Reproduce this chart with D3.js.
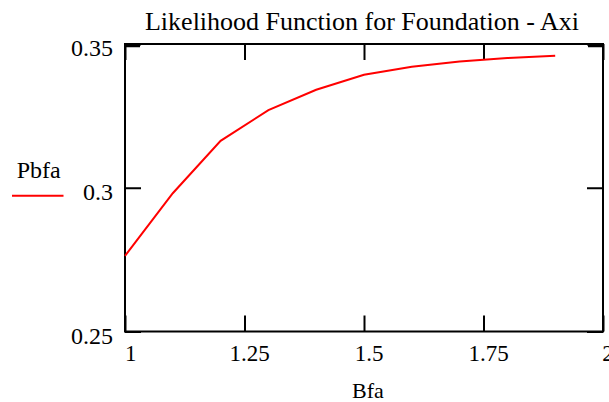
<!DOCTYPE html>
<html>
<head>
<meta charset="utf-8">
<script src="https://cdn.jsdelivr.net/npm/d3@7"></script>
<style>
  html, body { margin: 0; padding: 0; background: #fff; }
  svg { display: block; }
</style>
</head>
<body>
<script>
// Data
const bfa = [1.0, 1.1, 1.2, 1.3, 1.4, 1.5, 1.6, 1.7, 1.8, 1.9];
const pbfa = [0.2763, 0.2981, 0.3163, 0.3270, 0.3341, 0.3393, 0.3421, 0.3439, 0.3451, 0.3459];
const xTicks = [1, 1.25, 1.5, 1.75, 2];
const xTickLabels = ["1", "1.25", "1.5", "1.75", "2"];
const yTicks = [0.25, 0.3, 0.35];
const yTickLabels = ["0.25", "0.3", "0.35"];
const title = "Likelihood Function for Foundation - Axi";
const xLabel = "Bfa";
const seriesName = "Pbfa";

(function () {
const W = 609, H = 402;
const pL = 125, pR = 603, pT = 44, pB = 331.5;
const FONT = "'Liberation Serif'";

const svg = d3.select("body").append("svg").attr("width", W).attr("height", H)
  .attr("font-family", FONT);

const x = d3.scaleLinear().domain([1, 2]).range([pL, pR]);
const y = d3.scaleLinear().domain([0.25, 0.35]).range([pB, pT]);

const tickLen = 16;

// Frame
svg.append("rect")
  .attr("x", pL).attr("y", pT)
  .attr("width", pR - pL).attr("height", pB - pT)
  .attr("fill", "none").attr("stroke", "#000").attr("stroke-width", 2);

// Axes via d3 (inner ticks)
const axBottom = d3.axisBottom(x).tickValues(xTicks).tickSizeInner(-tickLen).tickSizeOuter(0).tickFormat("");
const axTop = d3.axisTop(x).tickValues(xTicks).tickSizeInner(-tickLen).tickSizeOuter(0).tickFormat("");
const axLeft = d3.axisLeft(y).tickValues(yTicks).tickSizeInner(-tickLen).tickSizeOuter(0).tickFormat("");
const axRight = d3.axisRight(y).tickValues(yTicks).tickSizeInner(-tickLen).tickSizeOuter(0).tickFormat("");

function styleAxis(g) {
  g.select(".domain").remove();
  g.selectAll(".tick line").attr("stroke", "#000").attr("stroke-width", 2);
}
svg.append("g").attr("transform", `translate(0,${pB})`).call(axBottom).call(styleAxis);
svg.append("g").attr("transform", `translate(0,${pT})`).call(axTop).call(styleAxis);
svg.append("g").attr("transform", `translate(${pL},0)`).call(axLeft).call(styleAxis);
svg.append("g").attr("transform", `translate(${pR},0)`).call(axRight).call(styleAxis);

// thicker corner marks at 0.35 (as in reference)
svg.append("g").selectAll("line").data([[pL, pL + 15], [pR - 15, pR]]).join("line")
  .attr("x1", d => d[0]).attr("x2", d => d[1])
  .attr("y1", y(0.35) + 2).attr("y2", y(0.35) + 2)
  .attr("stroke", "#000").attr("stroke-width", 2.5);

function txt(sel) { return sel.attr("font-family", FONT).attr("fill", "#000"); }

// Tick labels
svg.append("g").selectAll("text").data(xTicks).join("text")
  .call(txt)
  .attr("x", (d, i) => x(d) + (i === 0 ? 0 : 5))
  .attr("y", 361)
  .attr("text-anchor", (d, i) => i === 0 ? "start" : "middle")
  .attr("font-size", 23)
  .text((d, i) => xTickLabels[i]);

svg.append("g").selectAll("text").data(yTicks).join("text")
  .call(txt)
  .attr("x", 113)
  .attr("y", d => y(d) + 12)
  .attr("text-anchor", "end")
  .attr("font-size", 24)
  .text((d, i) => yTickLabels[i]);

// Title
svg.append("text").call(txt)
  .attr("x", 362).attr("y", 30)
  .attr("text-anchor", "middle")
  .attr("font-size", 26)
  .text(title);

// X label
svg.append("text").call(txt)
  .attr("x", 368).attr("y", 398)
  .attr("text-anchor", "middle")
  .attr("font-size", 22)
  .text(xLabel);

// Legend
svg.append("text").call(txt)
  .attr("x", 38.7).attr("y", 177.5)
  .attr("text-anchor", "middle")
  .attr("font-size", 24)
  .text(seriesName);
svg.append("line")
  .attr("x1", 12).attr("x2", 63.5).attr("y1", 195.7).attr("y2", 195.7)
  .attr("stroke", "#ff0000").attr("stroke-width", 2);

// Series line
const line = d3.line().x((d, i) => x(bfa[i])).y(d => y(d));
svg.append("path")
  .datum(pbfa)
  .attr("d", line)
  .attr("fill", "none")
  .attr("stroke", "#ff0000")
  .attr("stroke-width", 2);
})();
</script>
</body>
</html>
